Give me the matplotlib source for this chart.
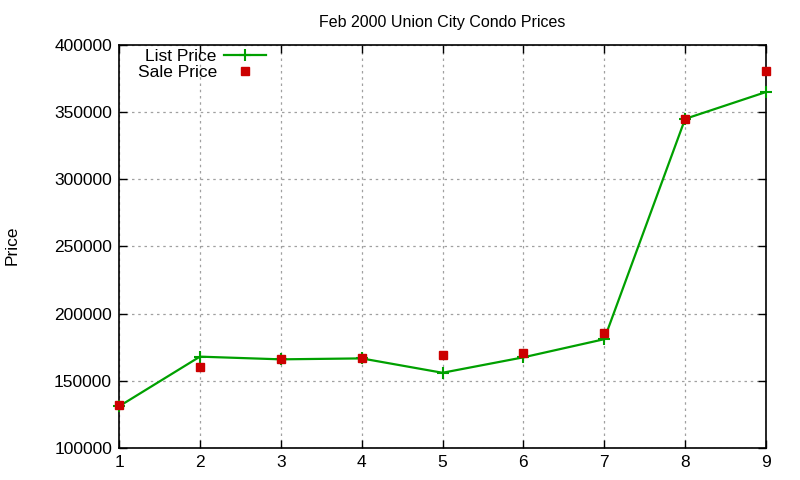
import matplotlib
matplotlib.use("Agg")
import matplotlib.pyplot as plt

plt.rcParams['font.family'] = ['Liberation Sans', 'DejaVu Sans']

homes = [1, 2, 3, 4, 5, 6, 7, 8, 9]
list_price = [131000, 168000, 166000, 166700, 156000, 167500, 181000, 345000, 365000]
sale_price = [132000, 160500, 166000, 167000, 169000, 170500, 185500, 345000, 381000]
yticks = [100000, 150000, 200000, 250000, 300000, 350000, 400000]
xticks = homes

fig = plt.figure(figsize=(8, 4.8), dpi=100)
ax = fig.add_axes([119/800, 1-448/480, (766-119)/800, (448-45)/480])

ax.plot(homes, list_price, color='#00a000', lw=1.6, marker='+', ms=9, mew=1.5,
        label='List Price', clip_on=False, zorder=3)
ax.plot(homes, sale_price, color='#cc0000', lw=0, marker='s', ms=6,
        label='Sale Price', clip_on=False, zorder=4)

ax.set_xlim(1, 9)
ax.set_ylim(100000, 400000)
ax.set_xticks(xticks)
ax.set_yticks(yticks)
ax.set_yticklabels([str(v) for v in yticks])
ax.tick_params(direction='in', top=True, right=True, labelsize=12.5, length=6, width=1, pad=5)
ax.grid(True, linestyle=(0, (2, 3)), color='#a0a0a0', lw=0.9)
for s in ax.spines.values():
    s.set_linewidth(1.2)

ax.set_title('Feb 2000 Union City Condo Prices', fontsize=11.5, pad=13)
fig.text(12/800, 1-245/480, 'Price', rotation=90, va='center', ha='center', fontsize=12.5)

leg = ax.legend(loc='upper left', bbox_to_anchor=(0.0125, 1.016), frameon=False, markerfirst=False,
                fontsize=12.5, handlelength=2.4, handletextpad=0.42, labelspacing=0.02,
                borderaxespad=0.2)

fig.savefig('out.png', dpi=100)
